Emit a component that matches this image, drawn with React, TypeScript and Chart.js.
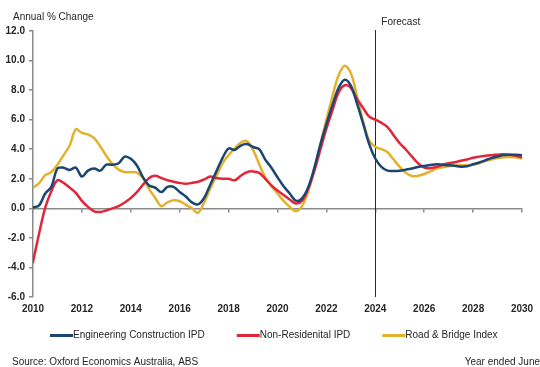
import { useEffect, useRef } from "react";
import { Chart, registerables } from "chart.js";

Chart.register(...registerables);

// Quarter positions (year ended June), 2010 to 2030
const quarters = [
  2010, 2010.25, 2010.5, 2010.75, 2011, 2011.25, 2011.5, 2011.75,
  2012, 2012.25, 2012.5, 2012.75, 2013, 2013.25, 2013.5, 2013.75,
  2014, 2014.25, 2014.5, 2014.75, 2015, 2015.25, 2015.5, 2015.75,
  2016, 2016.25, 2016.5, 2016.75, 2017, 2017.25, 2017.5, 2017.75,
  2018, 2018.25, 2018.5, 2018.75, 2019, 2019.25, 2019.5, 2019.75,
  2020, 2020.25, 2020.5, 2020.75, 2021, 2021.25, 2021.5, 2021.75,
  2022, 2022.25, 2022.5, 2022.75, 2023, 2023.25, 2023.5, 2023.75,
  2024, 2024.25, 2024.5, 2024.75, 2025, 2025.25, 2025.5, 2025.75,
  2026, 2026.25, 2026.5, 2026.75, 2027, 2027.25, 2027.5, 2027.75,
  2028, 2028.25, 2028.5, 2028.75, 2029, 2029.25, 2029.5, 2029.75,
  2030,
];

// Annual % change
const engineeringIPD = [
  0.05, 0.2, 1.0, 1.45, 2.7, 2.75, 2.6, 2.75,
  2.15, 2.55, 2.7, 2.55, 2.95, 2.95, 3.05, 3.5,
  3.35, 2.9, 2.1, 1.55, 1.4, 1.1, 1.45, 1.45,
  1.1, 0.8, 0.4, 0.27, 0.7, 1.6, 2.5, 3.4,
  4.05, 3.95, 4.25, 4.35, 4.15, 4.0, 3.3, 2.75,
  2.1, 1.5, 1.0, 0.52, 0.68, 1.4, 2.7, 4.3,
  5.7, 7.0, 8.15, 8.7, 8.3, 7.1, 5.75, 4.35,
  3.37, 2.8, 2.55, 2.53, 2.55, 2.62, 2.7, 2.8,
  2.87, 2.93, 2.98, 2.95, 2.92, 2.88, 2.82, 2.85,
  2.98, 3.1, 3.25, 3.4, 3.5, 3.6, 3.63, 3.63,
  3.6,
];

const nonResidentialIPD = [
  -3.64, -1.7, 0.05, 1.15, 1.9, 1.72, 1.4, 1.05,
  0.5, 0.1, -0.2, -0.25, -0.15, 0.0, 0.15, 0.4,
  0.7, 1.1, 1.6, 2.05, 2.2, 2.05, 1.9, 1.8,
  1.72, 1.67, 1.72, 1.8, 1.95, 2.15, 2.05, 2.0,
  2.0, 1.9, 2.2, 2.45, 2.5, 2.4, 2.0, 1.55,
  1.2, 0.9, 0.6, 0.33, 0.5, 1.3, 2.5, 3.95,
  5.4, 6.65, 7.85, 8.33, 8.15, 7.4, 6.8, 6.2,
  6.0, 5.78, 5.5, 4.95, 4.4, 3.98, 3.5, 3.05,
  2.75, 2.72, 2.8, 2.95, 3.05, 3.12, 3.22, 3.3,
  3.42, 3.5, 3.56, 3.6, 3.63, 3.66, 3.62, 3.55,
  3.44,
];

const roadBridgeIndex = [
  1.4, 1.7, 2.24, 2.46, 2.95, 3.6, 4.25, 5.35,
  5.1, 5.0, 4.75, 4.2, 3.55, 3.0, 2.62, 2.46,
  2.45, 2.42, 2.05, 1.3, 0.7, 0.15, 0.4, 0.54,
  0.48, 0.25, 0.0, -0.3, 0.4, 1.35, 2.2, 3.05,
  3.6, 4.05, 4.45, 4.55, 3.95, 3.0, 2.1, 1.5,
  1.0, 0.5, 0.1, -0.2, 0.15, 1.1, 2.6, 4.3,
  6.0, 7.6, 9.0, 9.65, 9.15, 7.6, 5.9, 4.6,
  4.16, 4.0, 3.8, 3.3, 2.8, 2.4, 2.18, 2.2,
  2.32, 2.5, 2.69, 2.78, 2.85, 2.9, 2.92, 2.92,
  2.95, 3.05, 3.2, 3.3, 3.4, 3.45, 3.48, 3.45,
  3.37,
];

const seriesNames = [
  "Engineering Construction IPD",
  "Non-Residenital IPD",
  "Road & Bridge Index",
];
const seriesColors = ["#1b4674", "#e2263a", "#e3b22c"];

const yearTicks = [2010, 2012, 2014, 2016, 2018, 2020, 2022, 2024, 2026, 2028, 2030];
const valueTicks = [-6, -4, -2, 0, 2, 4, 6, 8, 10, 12];
const forecastStart = 2024;

const yAxisTitle = "Annual % Change";
const forecastLabel = "Forecast";
const sourceNote = "Source: Oxford Economics Australia, ABS";
const periodNote = "Year ended June";

const FONT = '"Liberation Sans", Arial, Helvetica, sans-serif';
const TEXT = "#262626";
const AXIS = "#8a8a8a";

// Forecast divider, titles, legend and footnotes
const decorations = {
  id: "decorations",
  beforeDatasetsDraw(chart: any) {
    const { ctx, chartArea, scales } = chart;
    const x = Math.round(scales.x.getPixelForValue(forecastStart)) + 0.5;
    ctx.save();
    ctx.strokeStyle = "#2a2a2a";
    ctx.lineWidth = 1;
    ctx.beginPath();
    ctx.moveTo(x, chartArea.top - 1);
    ctx.lineTo(x, chartArea.bottom);
    ctx.stroke();
    ctx.restore();
  },
  afterDraw(chart: any) {
    const { ctx, scales } = chart;
    const x = scales.x.getPixelForValue(forecastStart);
    ctx.save();
    ctx.fillStyle = TEXT;
    ctx.font = `10px ${FONT}`;
    ctx.textBaseline = "middle";
    ctx.textAlign = "left";
    ctx.fillText(yAxisTitle, 13, 17.5);
    ctx.fillText(forecastLabel, x + 6, 22.5);

    // legend
    const legendY = 335.5;
    let lx = 50;
    chart.data.datasets.forEach((ds: any) => {
      ctx.strokeStyle = ds.borderColor;
      ctx.lineWidth = 3;
      ctx.beginPath();
      ctx.moveTo(lx, legendY);
      ctx.lineTo(lx + 23, legendY);
      ctx.stroke();
      ctx.fillStyle = TEXT;
      ctx.fillText(ds.label, lx + 23, legendY);
      lx += 23 + ctx.measureText(ds.label).width + 32;
    });

    ctx.fillText(sourceNote, 12, 362);
    ctx.textAlign = "right";
    ctx.fillText(periodNote, 540, 362);
    ctx.restore();
  },
};

export default function App() {
  const canvasRef = useRef<HTMLCanvasElement | null>(null);

  useEffect(() => {
    if (!canvasRef.current) return;
    const series = [engineeringIPD, nonResidentialIPD, roadBridgeIndex];
    const chart = new Chart(canvasRef.current, {
      type: "line",
      data: {
        datasets: series.map((values, i) => ({
          label: seriesNames[i],
          data: quarters.map((q, j) => ({ x: q, y: values[j] })),
          borderColor: seriesColors[i],
          backgroundColor: seriesColors[i],
          borderWidth: 2.5,
          pointRadius: 0,
          tension: 0.35,
          borderJoinStyle: "round" as const,
          borderCapStyle: "round" as const,
          xAxisID: "x",
          yAxisID: "y",
        })),
      },
      options: {
        animation: false,
        responsive: false,
        maintainAspectRatio: false,
        devicePixelRatio: 1,
        layout: { padding: { top: 31, right: 18, left: 0, bottom: 0 } },
        plugins: {
          legend: { display: false },
          tooltip: { enabled: false },
        },
        scales: {
          x: {
            type: "linear",
            position: "bottom",
            min: 2010,
            max: 2030,
            afterBuildTicks: (scale: any) => {
              scale.ticks = yearTicks.map((v) => ({ value: v }));
            },
            afterFit: (scale: any) => {
              scale.height = 70;
            },
            grid: { display: false, drawTicks: false },
            border: { display: false },
            ticks: {
              autoSkip: false,
              maxRotation: 0,
              padding: 6,
              color: TEXT,
              font: { family: FONT, size: 10, weight: "bold" },
              callback: (v: any) => String(v),
            },
          },
          zeroAxis: {
            type: "linear",
            axis: "x",
            position: { y: 0 },
            min: 2010,
            max: 2030,
            afterBuildTicks: (scale: any) => {
              scale.ticks = yearTicks.map((v) => ({ value: v }));
            },
            grid: {
              drawOnChartArea: false,
              drawTicks: true,
              tickLength: 3,
              color: AXIS,
              lineWidth: 1.5,
            },
            border: { display: true, color: AXIS, width: 1.5 },
            ticks: { display: false },
          },
          y: {
            type: "linear",
            position: "left",
            min: -6,
            max: 12,
            afterBuildTicks: (scale: any) => {
              scale.ticks = valueTicks.map((v) => ({ value: v }));
            },
            afterFit: (scale: any) => {
              scale.width = 33;
            },
            grid: {
              drawOnChartArea: false,
              drawTicks: true,
              tickLength: 4,
              color: AXIS,
              lineWidth: 1.5,
            },
            border: { display: true, color: AXIS, width: 1.5 },
            ticks: {
              padding: 4,
              color: TEXT,
              font: { family: FONT, size: 10, weight: "bold" },
              callback: (v: any) => Number(v).toFixed(1),
            },
          },
        },
      },
      plugins: [decorations],
    } as any);
    return () => chart.destroy();
  }, []);

  return (
    <div style={{ position: "fixed", left: 0, top: 0, width: 540, height: 367, background: "#fff" }}>
      <canvas ref={canvasRef} width={540} height={367} style={{ display: "block" }} />
    </div>
  );
}
